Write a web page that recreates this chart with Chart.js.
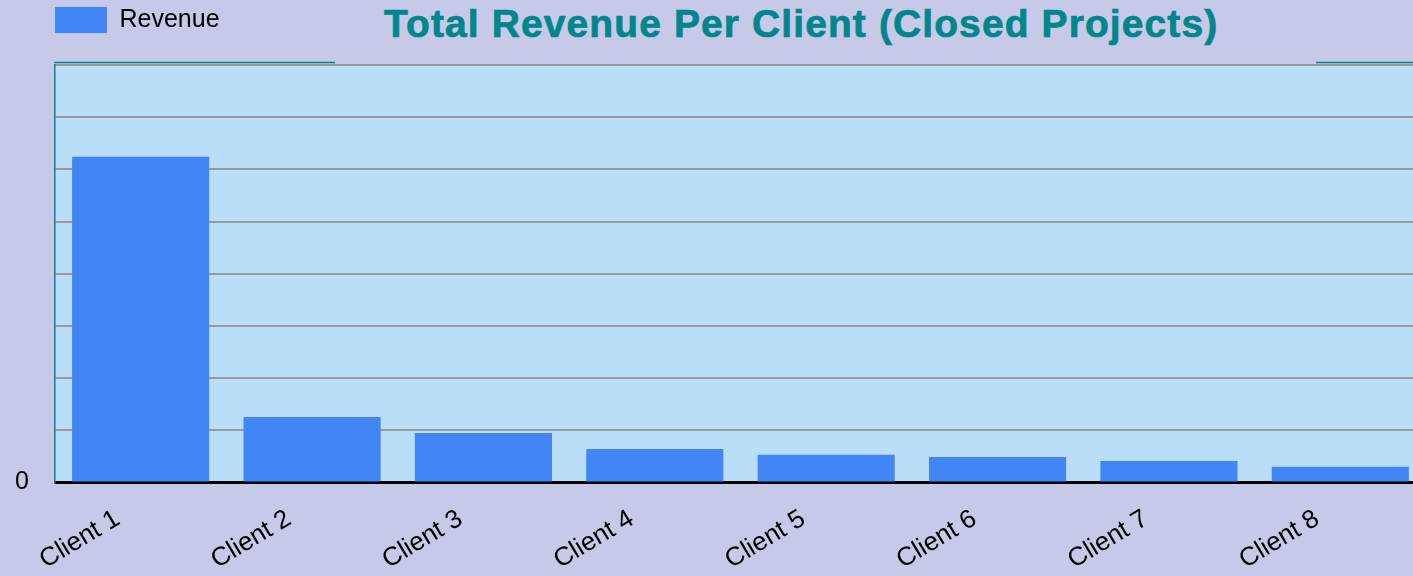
<!DOCTYPE html>
<html lang="en">
<head>
  <meta charset="UTF-8">
  <title>Total Revenue Per Client (Closed Projects)</title>
  <script src="https://cdn.jsdelivr.net/npm/chart.js"></script>
  <style>
    html, body { margin: 0; padding: 0; background: #c6c9e8; overflow: hidden; }
    .wrap { position: relative; width: 1426px; height: 576px; }
    .title-box { position: absolute; left: 335px; top: 0; width: 981px; height: 64px; background: #c6c9e8; }
    .title-box h1 { margin: 0; padding: 4px 0 0 49px; font: bold 39px/39px 'Liberation Sans', Arial, sans-serif; letter-spacing: 1.1px; color: #00868b; white-space: nowrap; -webkit-text-stroke: 0.7px #00868b; }
  </style>
</head>
<body>
  <div class="wrap">
    <canvas id="revenueChart" width="1426" height="576"></canvas>
    <div class="title-box"><h1>Total Revenue Per Client (Closed Projects)</h1></div>
  </div>

  <script>
    const clients = ['Client 1', 'Client 2', 'Client 3', 'Client 4', 'Client 5', 'Client 6', 'Client 7', 'Client 8'];
    const revenue = [62400, 12550, 9500, 6400, 5300, 4900, 4100, 3000];
    const yMax = 80000;
    const yStep = 10000;

    Chart.defaults.font.family = "'Liberation Sans', Arial, sans-serif";
    Chart.defaults.color = '#000';

    // light blue plot background + teal line along the top of the plot
    const plotFrame = {
      id: 'plotFrame',
      beforeDraw(chart) {
        const { ctx, chartArea: a } = chart;
        ctx.save();
        ctx.fillStyle = '#badef8';
        ctx.fillRect(a.left, a.top, a.right - a.left, a.bottom - a.top);
        ctx.restore();
      },
      afterDraw(chart) {
        const { ctx, chartArea: a } = chart;
        ctx.save();
        ctx.strokeStyle = '#00868b';
        ctx.lineWidth = 1.5;
        ctx.beginPath();
        ctx.moveTo(a.left - 0.75, a.top - 2.5);
        ctx.lineTo(a.right, a.top - 2.5);
        ctx.stroke();
        ctx.restore();
      }
    };

    new Chart(document.getElementById('revenueChart'), {
      type: 'bar',
      data: {
        labels: clients,
        datasets: [{
          label: 'Revenue',
          data: revenue,
          backgroundColor: '#4285f4',
          borderWidth: 0,
          barPercentage: 0.8,
          categoryPercentage: 1
        }]
      },
      options: {
        responsive: false,
        animation: false,
        devicePixelRatio: 1,
        layout: { padding: { left: 48, right: 0, top: 0, bottom: 0 } },
        plugins: {
          title: { display: false },
          tooltip: { enabled: false },
          legend: {
            position: 'top',
            align: 'start',
            labels: { boxWidth: 52, boxHeight: 26, padding: 7, color: '#000', font: { size: 25 } }
          }
        },
        scales: {
          x: {
            grid: { display: false, drawTicks: false },
            border: { display: true, color: '#000', width: 3 },
            ticks: { autoSkip: false, maxRotation: 31, minRotation: 31, padding: 21, labelOffset: -23, color: '#000', font: { size: 26 } },
            afterFit(s) { s.height = 93.5; }
          },
          x2: {
            type: 'category',
            position: 'top',
            grid: { display: false, drawTicks: false },
            border: { display: false },
            ticks: { display: false },
            afterFit(s) { s.height = 22; }
          },
          y: {
            min: 0,
            max: yMax,
            grid: { color: '#999999', lineWidth: 2, drawTicks: false },
            border: { display: true, color: '#00868b', width: 1.5 },
            ticks: {
              stepSize: yStep,
              mirror: true,
              padding: -40,
              color: '#000',
              font: { size: 25 },
              callback: v => (v === 0 ? '0' : '')
            },
            afterFit(s) { s.width = 7; }
          }
        }
      },
      plugins: [plotFrame]
    });
  </script>
</body>
</html>
